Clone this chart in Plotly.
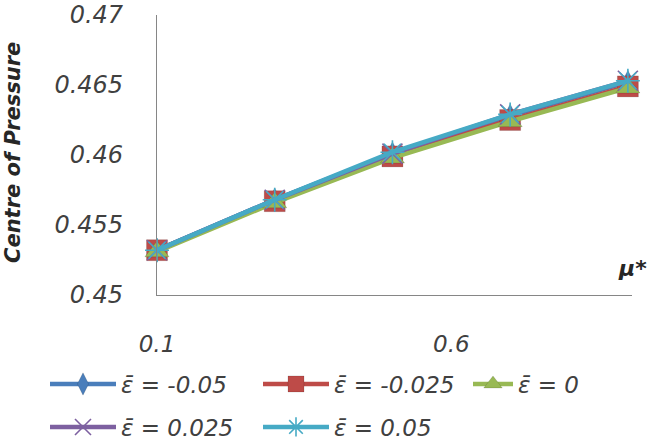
import plotly.graph_objects as go

mu = [0.1, 0.3, 0.5, 0.7, 0.9]
eps_labels = ["ε\u0304 = -0.05", "ε\u0304 = -0.025", "ε\u0304 = 0", "ε\u0304 = 0.025", "ε\u0304 = 0.05"]
cp_m005 = [0.4532, 0.4568, 0.4601, 0.4628, 0.4652]
cp_m0025 = [0.4532, 0.4567, 0.4599, 0.4625, 0.4649]
cp_0 = [0.4531, 0.4566, 0.4598, 0.4624, 0.4648]
cp_p0025 = [0.4532, 0.4568, 0.4601, 0.4629, 0.4653]
cp_p005 = [0.4532, 0.4568, 0.4602, 0.4629, 0.4653]
y_ticks = [0.45, 0.455, 0.46, 0.465, 0.47]
y_ticktext = ["0.45", "0.455", "0.46", "0.465", "0.47"]
x_ticks = [0.1, 0.6]
x_ticktext = ["0.1", "0.6"]

series = [cp_m005, cp_m0025, cp_0, cp_p0025, cp_p005]
colors = ["#4A7EBB", "#BE4B48", "#98B954", "#7D60A0", "#46AAC5"]
symbols = ["diamond-tall", "square", "triangle-up", "x-thin", "asterisk"]
sizes = [17, 21, 21, 20, 20]
legends = ["legend", "legend", "legend3", "legend2", "legend2"]

FONT = "DejaVu Sans"
TXT = "#404040"

fig = go.Figure()
for vals, lab, col, sym, sz, lg in zip(series, eps_labels, colors, symbols, sizes, legends):
    thin = sym in ("x-thin", "asterisk")
    fig.add_trace(go.Scatter(
        x=mu, y=vals, name=lab, mode="lines+markers", legend=lg,
        line=dict(color=col, width=4.5),
        marker=dict(symbol=sym, size=sz, color=col,
                    line=dict(color=col if thin else "rgba(0,0,0,0.25)", width=1.6 if thin else 0.5)),
        cliponaxis=False,
    ))

legfont = dict(family=FONT, size=23, color=TXT, style="italic")
leg_common = dict(orientation="h", xref="paper", yref="paper", x=(45 - 157) / 475,
                  xanchor="left", yanchor="middle", font=legfont, itemwidth=66,
                  entrywidth=132, bgcolor="rgba(0,0,0,0)", itemsizing="trace")
fig.update_layout(
    width=664, height=443,
    margin=dict(l=157, r=32, t=15, b=148, autoexpand=False),
    paper_bgcolor="white", plot_bgcolor="white",
    showlegend=True,
    legend=dict(leg_common, y=(295 - 384) / 280),
    legend3=dict(leg_common, x=(468 - 157) / 475, y=(295 - 384) / 280, itemwidth=40),
    legend2=dict(leg_common, y=(295 - 427) / 280),
    xaxis=dict(range=[0.1, 0.907], tickvals=x_ticks, ticktext=x_ticktext, showgrid=False,
               zeroline=False, showline=True, linecolor="#868686", linewidth=1.2, ticks="",
               ticklabelstandoff=28,
               tickfont=dict(family=FONT, size=23, color=TXT, style="italic")),
    yaxis=dict(range=[0.45, 0.47], tickvals=y_ticks, ticktext=y_ticktext, showgrid=False,
               zeroline=False, showline=True, linecolor="#868686", linewidth=1.2, ticks="",
               ticklabelstandoff=28,
               tickfont=dict(family=FONT, size=24, color=TXT, style="italic")),
    annotations=[
        dict(text="Centre of Pressure", textangle=-90, xref="paper", yref="paper",
             x=(13 - 157) / 475, y=(295 - 153) / 280, xanchor="center", yanchor="middle",
             showarrow=False,
             font=dict(family=FONT, size=21, color="#262626", weight="bold", style="italic")),
        dict(text="μ*", xref="paper", yref="paper", x=(632 - 157) / 475, y=(295 - 268) / 280,
             xanchor="center", yanchor="middle", showarrow=False,
             font=dict(family=FONT, size=22, color="#262626", weight="bold", style="italic")),
    ],
)

fig.write_html("out.html")
